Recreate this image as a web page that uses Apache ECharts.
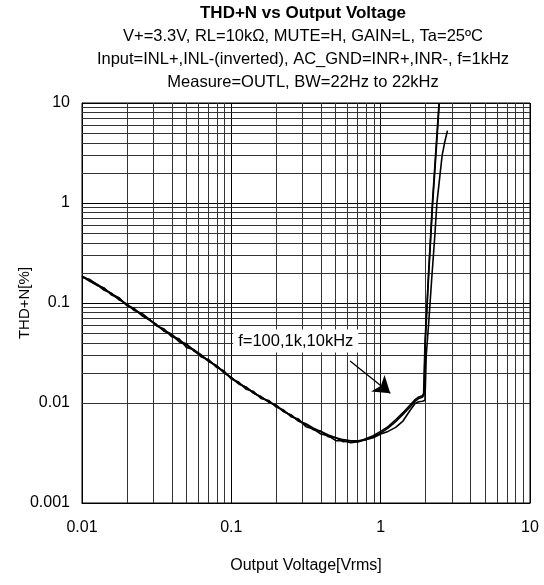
<!DOCTYPE html>
<html><head><meta charset="utf-8">
<script src="https://cdn.jsdelivr.net/npm/echarts@6/dist/echarts.min.js"></script>
<style>html,body{margin:0;padding:0;background:#fff}#c{width:544px;height:585px}</style>
</head><body><div id="c"></div>
<script>
// ---- text ----
const titleText = 'THD+N vs Output Voltage';
const subtitleLines = [
  'V+=3.3V, RL=10kΩ, MUTE=H, GAIN=L, Ta=25ºC',
  'Input=INL+,INL-(inverted), AC_GND=INR+,INR-, f=1kHz',
  'Measure=OUTL, BW=22Hz to 22kHz'
];
const xAxisName = 'Output Voltage[Vrms]';
const yAxisName = 'THD+N[%]';
const annotationText = 'f=100,1k,10kHz';

// ---- axes ----
const xRange = [0.01, 10];
const yRange = [0.001, 10];
const xMinorGrid = [0.02,0.03,0.04,0.05,0.06,0.07,0.08,0.09,0.2,0.3,0.4,0.5,0.6,0.7,0.8,0.9,2,3,4,5,6,7,8,9];
const yMinorGrid = [0.002,0.003,0.004,0.005,0.006,0.007,0.008,0.009,0.02,0.03,0.04,0.05,0.06,0.07,0.08,0.09,0.2,0.3,0.4,0.5,0.6,0.7,0.8,0.9,2,3,4,5,6,7,8,9];

// ---- series (Output Voltage [Vrms], THD+N [%]) ----
const volt100 = [0.01,0.0112,0.0126,0.0141,0.0158,0.0178,0.02,0.0224,0.0251,0.0282,0.0316,0.0355,0.0398,0.0447,0.0501,0.0562,0.0631,0.0708,0.0794,0.0891,0.1,0.112,0.126,0.141,0.158,0.178,0.2,0.224,0.251,0.282,0.316,0.355,0.398,0.447,0.501,0.562,0.631,0.708,0.794,0.891,1.0,1.12,1.26,1.41,1.58,1.7,1.8,1.9,1.94,1.98,2.1,2.22,2.34,2.46];
const thd100  = [0.185,0.166,0.150,0.141,0.120,0.111,0.094,0.087,0.076,0.068,0.061,0.052,0.048,0.041,0.038,0.034,0.0302,0.0262,0.0236,0.0203,0.0180,0.0157,0.0143,0.0126,0.0115,0.0103,0.0094,0.0082,0.0076,0.0066,0.0061,0.0054,0.0052,0.0046,0.0045,0.0041,0.0042,0.0041,0.0044,0.0047,0.0052,0.0058,0.0068,0.0080,0.0096,0.0108,0.0115,0.0118,0.0125,0.04,0.22,1.0,3.3,10];

const volt1k = [0.01,0.0112,0.0126,0.0141,0.0158,0.0178,0.02,0.0224,0.0251,0.0282,0.0316,0.0355,0.0398,0.0447,0.0501,0.0562,0.0631,0.0708,0.0794,0.0891,0.1,0.112,0.126,0.141,0.158,0.178,0.2,0.224,0.251,0.282,0.316,0.355,0.398,0.447,0.501,0.562,0.631,0.708,0.794,0.891,1.0,1.12,1.26,1.41,1.58,1.7,1.8,1.9,1.95,1.99,2.1,2.23,2.35,2.47];
const thd1k  = [0.180,0.173,0.153,0.134,0.125,0.107,0.098,0.084,0.079,0.069,0.059,0.055,0.046,0.044,0.036,0.034,0.0288,0.0270,0.0228,0.0210,0.0174,0.0162,0.0137,0.0130,0.0111,0.0106,0.0091,0.0085,0.0073,0.0069,0.0058,0.0055,0.0049,0.0047,0.0042,0.0042,0.0040,0.0041,0.0043,0.0046,0.0050,0.0056,0.0065,0.0077,0.0092,0.0104,0.0111,0.0114,0.012,0.04,0.2,1.0,3.2,10];

const volt10k = [0.01,0.0112,0.0126,0.0141,0.0158,0.0178,0.02,0.0224,0.0251,0.0282,0.0316,0.0355,0.0398,0.0447,0.0501,0.0562,0.0631,0.0708,0.0794,0.0891,0.1,0.112,0.126,0.141,0.158,0.178,0.2,0.224,0.251,0.282,0.316,0.355,0.398,0.447,0.501,0.562,0.631,0.708,0.794,0.891,1.0,1.12,1.26,1.41,1.58,1.7,1.8,1.9,1.98,2.02,2.1,2.2,2.3,2.38,2.58,2.68,2.8];
const thd10k  = [0.186,0.169,0.154,0.139,0.123,0.112,0.095,0.088,0.075,0.068,0.060,0.053,0.049,0.042,0.039,0.033,0.0296,0.0259,0.0238,0.0201,0.0178,0.0155,0.0144,0.0125,0.0116,0.0102,0.0095,0.0082,0.0076,0.0066,0.0062,0.0056,0.0052,0.0048,0.0045,0.0043,0.0042,0.0042,0.0043,0.0045,0.0049,0.0052,0.0057,0.0066,0.0085,0.0099,0.0103,0.0104,0.0106,0.03,0.065,0.18,0.45,1.0,3.0,4.0,5.3];

// ---- annotation anchors (data units) ----
const annotationAt = [0.27, 0.0417];
const arrowFrom = [0.624, 0.0263];
const arrowTo = [1.16, 0.0125];

const FONT = '"Liberation Sans", Arial, sans-serif';
const zip = (xs, ys) => xs.map((x, i) => [x, ys[i]]);

function curve(name, xs, ys) {
  return {
    name, type: 'line', data: zip(xs, ys), showSymbol: false, symbol: 'none',
    lineStyle: { color: '#000', width: 1.6 }, z: 5, silent: true
  };
}

const chart = echarts.init(document.getElementById('c'), null, { renderer: 'canvas' });

const centerX = 303;
const option = {
  animation: false,
  backgroundColor: '#fff',
  graphic: [
    { type: 'text', x: centerX, y: 13, style: { text: titleText, font: 'bold 17px ' + FONT, fill: '#000', align: 'center', verticalAlign: 'middle', textAlign: 'center', textVerticalAlign: 'middle' } },
    ...subtitleLines.map((t, i) => ({ type: 'text', x: centerX, y: 36 + i * 23, style: { text: t, font: '16.5px ' + FONT, fill: '#000', align: 'center', verticalAlign: 'middle', textAlign: 'center', textVerticalAlign: 'middle' } }))
  ],
  grid: { left: 82, right: 14, top: 103, bottom: 82, show: true, borderColor: '#000', borderWidth: 1 },
  xAxis: {
    type: 'log', logBase: 10, min: xRange[0], max: xRange[1],
    name: xAxisName, nameLocation: 'middle', nameGap: 55, nameMoveOverlap: false,
    nameTextStyle: { color: '#000', fontSize: 16, fontFamily: FONT },
    axisLine: { show: true, lineStyle: { color: '#000', width: 1 } },
    axisTick: { show: false },
    axisLabel: { color: '#000', fontSize: 16, fontFamily: FONT, margin: 17 },
    splitLine: { show: true, lineStyle: { color: '#000', width: 1 } }
  },
  yAxis: {
    type: 'log', logBase: 10, min: yRange[0], max: yRange[1],
    name: yAxisName, nameLocation: 'middle', nameGap: 50, nameMoveOverlap: false,
    nameTextStyle: { color: '#000', fontSize: 15, fontFamily: FONT },
    axisLine: { show: true, lineStyle: { color: '#000', width: 1 } },
    axisTick: { show: false },
    axisLabel: { color: '#000', fontSize: 16, fontFamily: FONT, margin: 12 },
    splitLine: { show: true, lineStyle: { color: '#000', width: 1 } }
  },
  series: [
    {
      name: 'grid', type: 'line', data: [], silent: true, z: 1,
      markLine: {
        silent: true, symbol: ['none', 'none'], animation: false,
        label: { show: false },
        lineStyle: { color: '#333', width: 1, type: 'solid' },
        data: [
          ...xMinorGrid.map(v => ({ xAxis: v })),
          ...yMinorGrid.map(v => ({ yAxis: v }))
        ]
      }
    },
    curve('f=100Hz', volt100, thd100),
    curve('f=1kHz', volt1k, thd1k),
    Object.assign(curve('f=10kHz', volt10k, thd10k), {
      markLine: {
        silent: true, symbol: ['none', 'arrow'], symbolSize: 16, animation: false,
        label: { show: false },
        lineStyle: { color: '#000', width: 1.3, type: 'solid' },
        itemStyle: { color: '#000' },
        data: [[{ coord: arrowFrom }, { coord: arrowTo }]]
      },
      markPoint: {
        silent: true, animation: false,
        symbol: 'rect', symbolSize: 1, itemStyle: { color: 'rgba(0,0,0,0)' },
        label: { show: true, position: 'inside', formatter: annotationText, color: '#000', fontSize: 16.5, fontFamily: FONT, backgroundColor: '#fff', padding: [3, 5] },
        data: [{ coord: annotationAt }]
      }
    })
  ]
};
chart.setOption(option);
</script></body></html>
